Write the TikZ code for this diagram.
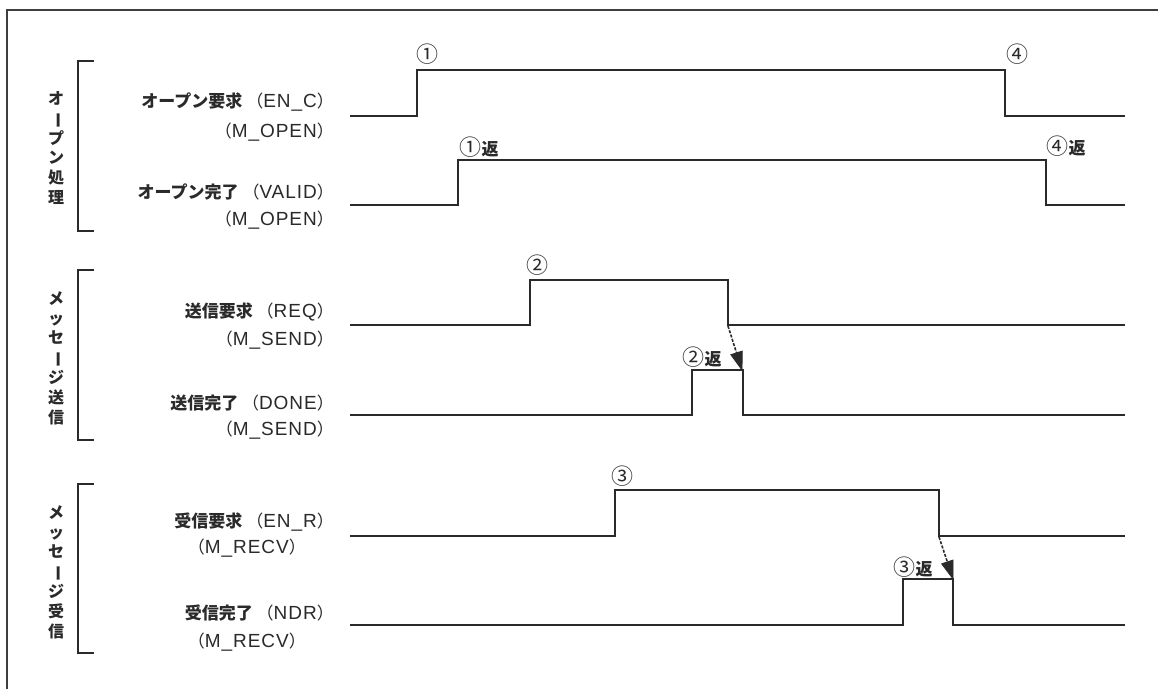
\documentclass[tikz,border=0pt]{standalone}
\usepackage{fontspec}
\setmainfont{Noto Sans CJK JP}
\newfontfamily\latfont{Liberation Sans}
\usetikzlibrary{arrows.meta,calc}
\definecolor{ink}{HTML}{2A2A2A}
\newcommand{\vbar}{\rotatebox[origin=c]{-90}{ー}}
\newcommand{\lat}[1]{{\fontsize{19}{20}\latfont\addfontfeature{LetterSpace=5}#1}}
\newcommand{\sigtext}[2]{\textbf{#1} （\lat{#2}）}
\tikzset{
  wave/.style={line width=1.7pt, draw=ink, line join=miter},
  frameline/.style={line width=1.8pt, draw=ink!90},
  brk/.style={line width=1.7pt, draw=ink},
  sig/.style={font=\fontsize{17}{20}\selectfont, anchor=east, inner sep=0pt, text=ink},
  grp/.style={font=\fontsize{16}{19.8}\selectfont\bfseries, align=center, inner sep=0pt, text=ink},
  evlabel/.style={font=\fontsize{17}{19}\selectfont, inner sep=0pt, text=ink},
  handoff/.style={line width=1.6pt, draw=ink, dash pattern=on 3pt off 1.5pt, shorten >=14pt},
  handtip/.style={solid, draw=ink, fill=ink, line width=0.8pt, line join=miter}
}
\newcommand{\circd}[1]{{\fontsize{22}{22}\selectfont #1}}
\newcommand{\tipto}[2]{%
  \filldraw[handtip] (#2) -- ($(#2)!18pt!(#1)!6pt!90:(#1)$) -- ($(#2)!18pt!(#1)!6pt!-90:(#1)$) -- cycle;}
\begin{document}
\begin{tikzpicture}[x=1pt,y=-1pt]
\useasboundingbox (0,0) rectangle (1158,689);
\fill[white] (0,0) rectangle (1158,689);
% frame
\draw[frameline] (7,689) -- (7,10) -- (1158,10);

% group brackets
\draw[brk] (94,61) -- (78,61) -- (78,231) -- (94,231);
\draw[brk] (94,270) -- (78,270) -- (78,440) -- (94,440);
\draw[brk] (94,484) -- (78,484) -- (78,653) -- (94,653);

% group labels
\node[grp] (g1) at (56,148) {オ\\\vbar\\プ\\ン\\処\\理};
\node[grp] (g2) at (56,358) {メ\\ッ\\セ\\\vbar\\ジ\\送\\信};
\node[grp] (g3) at (56,572) {メ\\ッ\\セ\\\vbar\\ジ\\受\\信};

% signal labels
\node[sig] (l1a) at (334,102) {\sigtext{オープン要求}{EN\_C}};
\node[sig] (l1b) at (334,132) {（\lat{M\_OPEN}）};
\node[sig] (l2a) at (334,192) {\sigtext{オープン完了}{VALID}};
\node[sig] (l2b) at (334,220) {（\lat{M\_OPEN}）};
\node[sig] (l3a) at (334,312) {\sigtext{送信要求}{REQ}};
\node[sig] (l3b) at (334,340) {（\lat{M\_SEND}）};
\node[sig] (l4a) at (334,403) {\sigtext{送信完了}{DONE}};
\node[sig] (l4b) at (334,430) {（\lat{M\_SEND}）};
\node[sig] (l5a) at (334,522) {\sigtext{受信要求}{EN\_R}};
\node[sig] (l5b) at (306,548) {（\lat{M\_RECV}）};
\node[sig] (l6a) at (334,613) {\sigtext{受信完了}{NDR}};
\node[sig] (l6b) at (306,642) {（\lat{M\_RECV}）};

% waveforms
\draw[wave] (350,116) -- (417,116) -- (417,70) -- (1005,70) -- (1005,116) -- (1125,116);
\draw[wave] (350,205) -- (458,205) -- (458,160) -- (1046,160) -- (1046,205) -- (1125,205);
\draw[wave] (350,325) -- (530,325) -- (530,280) -- (728,280) -- (728,325) -- (1125,325);
\draw[wave] (350,415) -- (692,415) -- (692,370) -- (743,370) -- (743,415) -- (1125,415);
\draw[wave] (350,536) -- (615,536) -- (615,490) -- (939,490) -- (939,536) -- (1125,536);
\draw[wave] (350,625) -- (903,625) -- (903,579) -- (953,579) -- (953,625) -- (1125,625);

% handoff arrows
\coordinate (reqfall) at (728,326);
\coordinate (donefall) at (742,370);
\coordinate (enrfall) at (939,537);
\coordinate (ndrfall) at (953,579);
\draw[handoff] (reqfall) -- (donefall);
\tipto{reqfall}{donefall}
\draw[handoff] (enrfall) -- (ndrfall);
\tipto{enrfall}{ndrfall}

% event labels
\node[evlabel] (e1) at (427,54) {\circd{①}};
\node[evlabel] (e4) at (1017,54) {\circd{④}};
\node[evlabel] (e1r) at (479,147) {\circd{①}\textbf{返}};
\node[evlabel] (e4r) at (1066,146) {\circd{④}\textbf{返}};
\node[evlabel] (e2) at (537,265) {\circd{②}};
\node[evlabel] (e2r) at (702,357) {\circd{②}\textbf{返}};
\node[evlabel] (e3) at (622,476) {\circd{③}};
\node[evlabel] (e3r) at (913,567) {\circd{③}\textbf{返}};
\end{tikzpicture}
\end{document}
